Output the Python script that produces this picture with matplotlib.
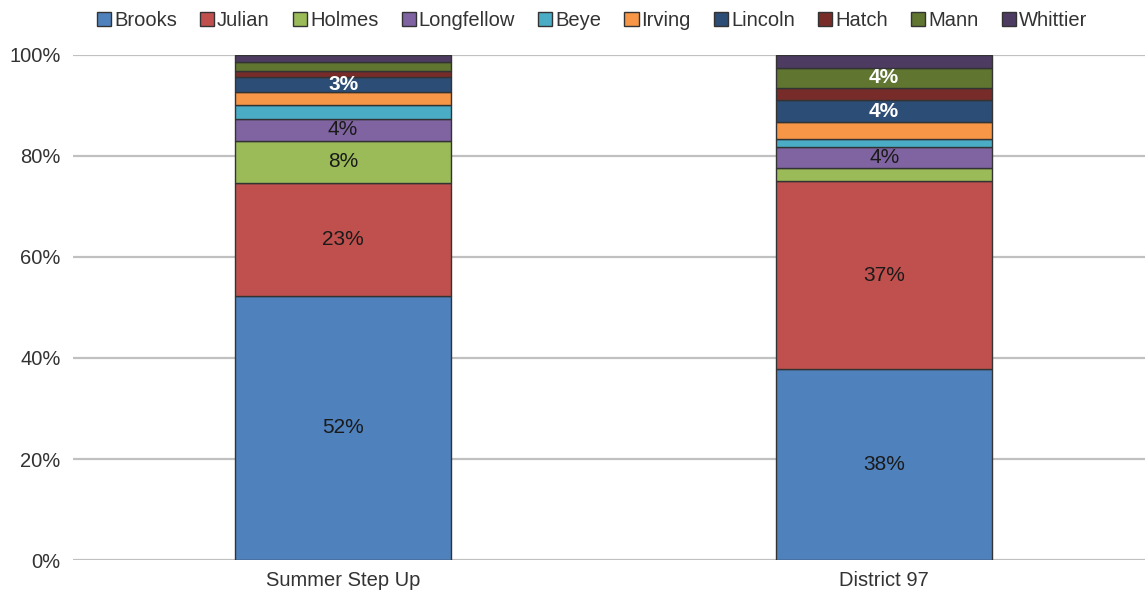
import matplotlib
matplotlib.use("Agg")
import matplotlib.pyplot as plt
from matplotlib.patches import Patch

plt.rcParams["font.family"] = ["Liberation Sans", "DejaVu Sans"]

# ── data ─────────────────────────────────────────────────────────────────────
groups  = ["Summer Step Up", "District 97"]
schools = ["Brooks", "Julian", "Holmes", "Longfellow", "Beye",
           "Irving", "Lincoln", "Hatch", "Mann", "Whittier"]

summer_step_up = [52.3, 22.4, 8.3, 4.3, 2.7, 2.6, 3.0, 1.3, 1.7, 1.4]
district_97    = [37.8, 37.2, 2.6, 4.1, 1.7, 3.3, 4.4, 2.4, 4.0, 2.5]

summer_labels   = ["52%", "23%", "8%", "4%", "", "", "3%", "", "", ""]
district_labels = ["38%", "37%", "", "4%", "", "", "4%", "", "4%", ""]

COLORS = ["#4F81BD", "#C0504D", "#9BBB59", "#8064A2", "#4BACC6",
          "#F79646", "#2C4D75", "#772C2A", "#5F7530", "#4D3B62"]
DARK = {"Lincoln", "Hatch", "Mann", "Whittier"}

values = [summer_step_up, district_97]
labels = [summer_labels, district_labels]

# ── plot ─────────────────────────────────────────────────────────────────────
fig = plt.figure(figsize=(11.45, 5.99), dpi=100)
ax = fig.add_axes([0.0638, 0.0651, 0.9362, 0.8431])

x = [0, 1]
bottoms = [0.0, 0.0]
for i, school in enumerate(schools):
    seg = [values[g][i] for g in range(len(groups))]
    ax.bar(x, seg, width=0.4, bottom=bottoms, color=COLORS[i],
           edgecolor="#333333", linewidth=1.0, zorder=3)
    for g in range(len(groups)):
        txt = labels[g][i]
        if txt:
            dark = school in DARK
            ax.text(x[g], bottoms[g] + seg[g] / 2, txt, ha="center", va="center",
                    fontsize=15, color="white" if dark else "#1a1a1a",
                    fontweight="bold" if dark else "normal", zorder=4)
    bottoms = [bottoms[g] + seg[g] for g in range(len(groups))]

ax.set_xlim(-0.499, 1.482)
ax.set_ylim(0, 100)
ax.set_yticks(range(0, 101, 20))
ax.set_yticklabels([f"{v}%" for v in range(0, 101, 20)], fontsize=14.5, color="#333333")
ax.set_xticks(x)
ax.set_xticklabels(groups, fontsize=14.5, color="#333333")
ax.tick_params(axis="y", length=0, pad=9)
ax.tick_params(axis="x", length=0, pad=8)
ax.yaxis.grid(True, color="#C0C0C0", linewidth=1.6, zorder=0)
ax.set_axisbelow(True)
for s in ax.spines.values():
    s.set_visible(False)

handles = [Patch(facecolor=c, edgecolor="#333333", linewidth=1.0) for c in COLORS]
fig.legend(handles, schools, loc="center", bbox_to_anchor=(0.517, 0.966), ncol=10,
           frameon=False, fontsize=14.5, handlelength=0.7, handleheight=0.7,
           handletextpad=0.15, columnspacing=1.15, labelcolor="#333333")

fig.savefig("out.png", dpi=100)
